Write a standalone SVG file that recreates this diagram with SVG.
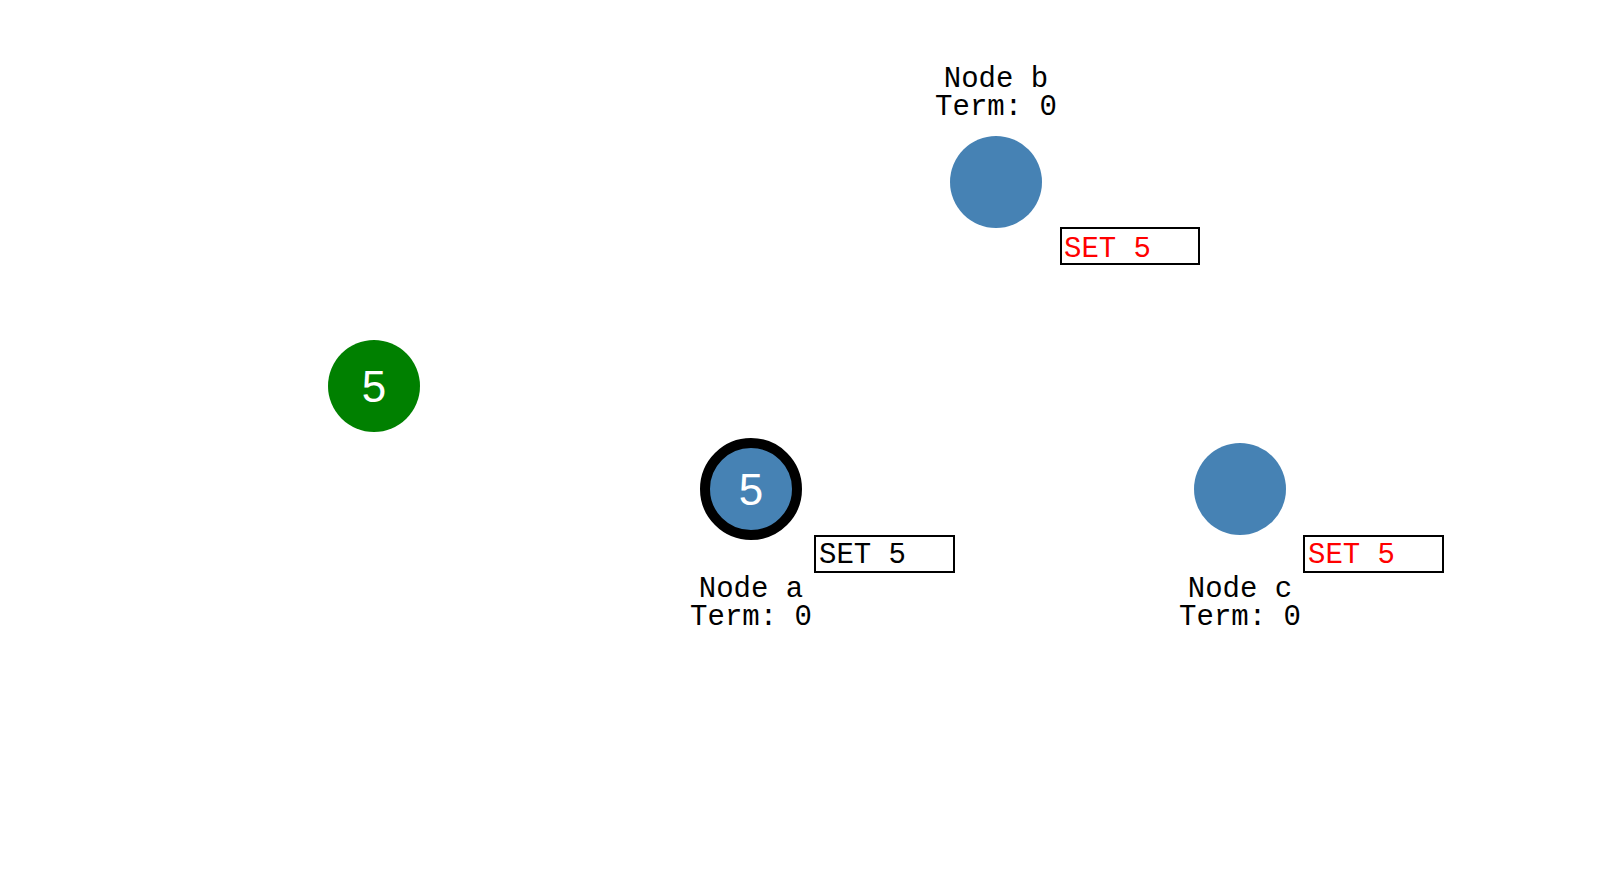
<svg xmlns="http://www.w3.org/2000/svg" width="1610" height="870" viewBox="0 0 1610 870">
<style>
.bg{fill:#ffffff}
.node{fill:#4682b4}
.leader{fill:#4682b4;stroke:#000000;stroke-width:10}
.client{fill:#008000}
.val{font-family:"Liberation Sans",Arial,sans-serif;font-size:44px;fill:#ffffff;text-anchor:middle}
.lbl{font-family:"Liberation Mono","Courier New",monospace;font-size:29px;fill:#000000;text-anchor:middle}
.box{fill:#ffffff;stroke:#000000;stroke-width:2}
.cmd{font-family:"Liberation Mono","Courier New",monospace;font-size:29px}
.ok{fill:#000000}
.pending{fill:#ff0000}
</style>
<rect class="bg" x="0" y="0" width="1610" height="870"/>
<g id="connectors"></g>
<g id="client">
<circle class="client" cx="374" cy="386" r="46"/>
<text class="val" x="374" y="402">5</text>
</g>
<g id="node-a">
<circle class="leader" cx="751" cy="489" r="46"/>
<text class="val" x="751" y="505">5</text>
<text class="lbl" x="751" y="597">Node a</text>
<text class="lbl" x="751" y="625">Term: 0</text>
<rect class="box" x="815" y="536" width="139" height="36"/>
<text class="cmd ok" x="819" y="563">SET 5</text>
</g>
<g id="node-b">
<circle class="node" cx="996" cy="182" r="46"/>
<text class="lbl" x="996" y="87">Node b</text>
<text class="lbl" x="996" y="115">Term: 0</text>
<rect class="box" x="1061" y="228" width="138" height="36"/>
<text class="cmd pending" x="1064" y="257">SET 5</text>
</g>
<g id="node-c">
<circle class="node" cx="1240" cy="489" r="46"/>
<text class="lbl" x="1240" y="597">Node c</text>
<text class="lbl" x="1240" y="625">Term: 0</text>
<rect class="box" x="1304" y="536" width="139" height="36"/>
<text class="cmd pending" x="1308" y="563">SET 5</text>
</g>
</svg>
